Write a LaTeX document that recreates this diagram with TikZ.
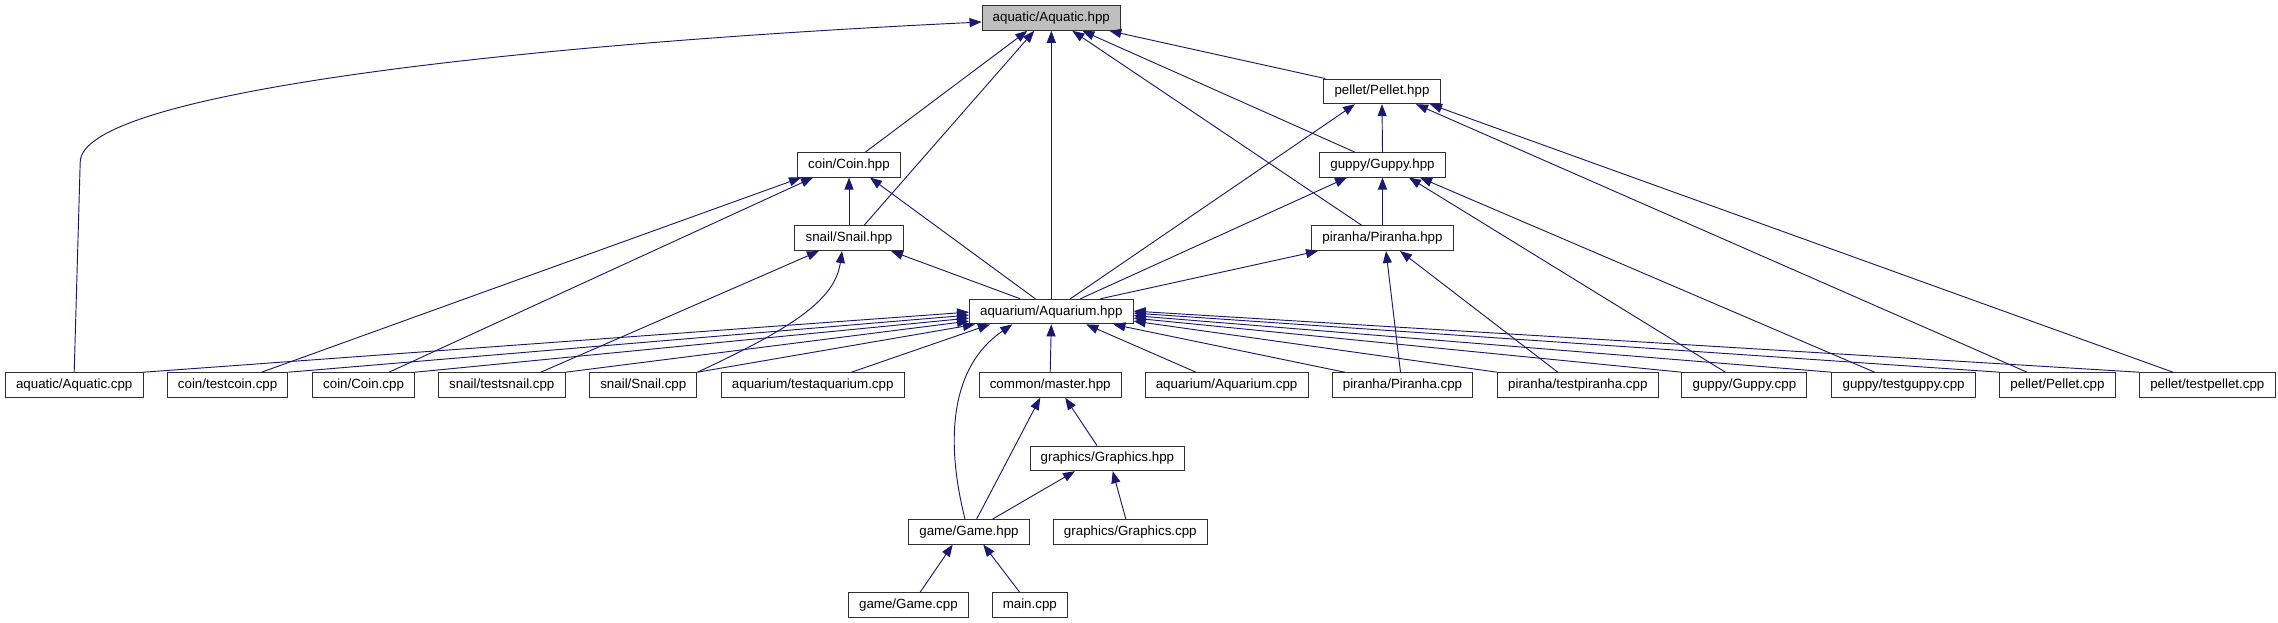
\documentclass[tikz,border=0pt]{standalone}
\usepackage{fontspec}
\setmainfont{Liberation Sans}
\usetikzlibrary{calc,arrows.meta}
\definecolor{edgeBlue}{HTML}{191970}
\definecolor{boxLine}{HTML}{303030}
\definecolor{rootFill}{HTML}{BFBFBF}

\tikzset{
  fileBox/.style={draw=boxLine, line width=0.75pt, fill=white, inner xsep=8pt,
    inner ysep=0pt, minimum height=18.45pt, font=\fontsize{10}{12}\selectfont},
  rootBox/.style={fileBox, fill=rootFill},
  incEdge/.style={draw=edgeBlue, line width=0.7pt,
    -{Triangle[length=9pt,width=6.8pt]}, fill=none}
}

\begin{document}
\begin{tikzpicture}[x=0.75pt,y=-0.75pt]

% rows (pixel units, y grows downward)
\def\yA{18}
\def\yB{91.4}
\def\yC{164.8}
\def\yD{238.2}
\def\yE{311.6}
\def\yF{385}
\def\yG{458.4}
\def\yH{531.8}
\def\yI{605.2}

\useasboundingbox (0,0) rectangle (2278,623);

% --- HEADERS ---
\node[rootBox] (aqhpp)      at (1051.3,\yA) {aquatic/Aquatic.hpp};
\node[fileBox] (pellethpp)  at (1382,\yB)   {pellet/Pellet.hpp};
\node[fileBox] (coinhpp)    at (849,\yC)    {coin/Coin.hpp};
\node[fileBox] (guppyhpp)   at (1382.5,\yC) {guppy/Guppy.hpp};
\node[fileBox] (snailhpp)   at (849,\yD)    {snail/Snail.hpp};
\node[fileBox] (piranhahpp) at (1382.5,\yD) {piranha/Piranha.hpp};
\node[fileBox] (aqrmhpp)    at (1051.3,\yE) {aquarium/Aquarium.hpp};

% --- SOURCES / SECOND LEVEL ---
\node[fileBox] (aquaticcpp)  at (74.2,\yF)   {aquatic/Aquatic.cpp};
\node[fileBox] (testcoin)    at (227.6,\yF)  {coin/testcoin.cpp};
\node[fileBox] (coincpp)     at (363.6,\yF)  {coin/Coin.cpp};
\node[fileBox] (testsnail)   at (501.8,\yF)  {snail/testsnail.cpp};
\node[fileBox] (snailcpp)    at (643.3,\yF)  {snail/Snail.cpp};
\node[fileBox] (testaqrm)    at (812.7,\yF)  {aquarium/testaquarium.cpp};
\node[fileBox] (master)      at (1050.2,\yF) {common/master.hpp};
\node[fileBox] (aqrmcpp)     at (1226.6,\yF) {aquarium/Aquarium.cpp};
\node[fileBox] (piranhacpp)  at (1402.5,\yF) {piranha/Piranha.cpp};
\node[fileBox] (testpiranha) at (1577.8,\yF) {piranha/testpiranha.cpp};
\node[fileBox] (guppycpp)    at (1744.4,\yF) {guppy/Guppy.cpp};
\node[fileBox] (testguppy)   at (1903.6,\yF) {guppy/testguppy.cpp};
\node[fileBox] (pelletcpp)   at (2057.5,\yF) {pellet/Pellet.cpp};
\node[fileBox] (testpellet)  at (2207.3,\yF) {pellet/testpellet.cpp};

% --- GAME / GRAPHICS ---
\node[fileBox] (graphicshpp) at (1107.4,\yG) {graphics/Graphics.hpp};
\node[fileBox] (gamehpp)     at (969,\yH)    {game/Game.hpp};
\node[fileBox] (graphicscpp) at (1130.3,\yH) {graphics/Graphics.cpp};
\node[fileBox] (gamecpp)     at (908.4,\yI)  {game/Game.cpp};
\node[fileBox] (maincpp)     at (1029.8,\yI) {main.cpp};

% --- EDGES INTO aquatic/Aquatic.hpp ---
\draw[incEdge] (aquaticcpp.north) -- ++(6,-210)
  .. controls +(0,-68) and +(-482,23) .. ($(aqhpp.west)+(0,4)$);
\draw[incEdge] ($(coinhpp.north)+(16.5,0)$) -- ($(aqhpp.south)+(-24,0)$);
\draw[incEdge] ($(snailhpp.north)+(15,0)$) -- ($(aqhpp.south)+(-17,0)$);
\draw[incEdge] (aqrmhpp.north) -- (aqhpp.south);
\draw[incEdge] ($(piranhahpp.north)+(-20.7,0)$) -- ($(aqhpp.south)+(21,0)$);
\draw[incEdge] ($(guppyhpp.north)+(-28,0)$) -- ($(aqhpp.south)+(31,0)$);
\draw[incEdge] ($(pellethpp.north west)+(2,0)$) -- ($(aqhpp.south)+(58,0)$);

% --- EDGES INTO pellet/Pellet.hpp ---
\draw[incEdge] (guppyhpp.north) -- (pellethpp.south);
\draw[incEdge] ($(aqrmhpp.north)+(19,0)$) -- ($(pellethpp.south)+(-27,0)$);
\draw[incEdge] ($(pelletcpp.north)+(-30.5,0)$) -- ($(pellethpp.south)+(34,0)$);
\draw[incEdge] ($(testpellet.north)+(-34.3,0)$) -- ($(pellethpp.south)+(48,0)$);

% --- EDGES INTO coin/Coin.hpp ---
\draw[incEdge] (snailhpp.north) -- (coinhpp.south);
\draw[incEdge] ($(testcoin.north)+(34,0)$) -- ($(coinhpp.south west)+(4,0)$);
\draw[incEdge] ($(coincpp.north)+(25.4,0)$) -- ($(coinhpp.south)+(-36,0)$);
\draw[incEdge] ($(aqrmhpp.north)+(-16,0)$) -- ($(coinhpp.south)+(21,0)$);

% --- EDGES INTO guppy/Guppy.hpp ---
\draw[incEdge] (piranhahpp.north) -- (guppyhpp.south);
\draw[incEdge] ($(aqrmhpp.north)+(29,0)$) -- ($(guppyhpp.south)+(-35.5,0)$);
\draw[incEdge] ($(guppycpp.north)+(-19,0)$) -- ($(guppyhpp.south)+(26.5,0)$);
\draw[incEdge] ($(testguppy.north)+(-29,0)$) -- ($(guppyhpp.south)+(37.5,0)$);

% --- EDGES INTO snail/Snail.hpp ---
\draw[incEdge] ($(aqrmhpp.north)+(-31,0)$) -- ($(snailhpp.south)+(42,0)$);
\draw[incEdge] ($(testsnail.north)+(39,0)$) -- ($(snailhpp.south)+(-30,0)$);
\draw[incEdge] (snailcpp.north east)
  .. controls +(92,-43) and +(-7,50) .. ($(snailhpp.south)+(-7,0)$);

% --- EDGES INTO piranha/Piranha.hpp ---
\draw[incEdge] ($(aqrmhpp.north)+(49,0)$) -- ($(piranhahpp.south)+(-64.5,0)$);
\draw[incEdge] ($(piranhacpp.north)+(-2,0)$) -- ($(piranhahpp.south)+(3.5,0)$);
\draw[incEdge] ($(testpiranha.north)+(-20,0)$) -- ($(piranhahpp.south)+(17.5,0)$);

% --- EDGES INTO aquarium/Aquarium.hpp ---
\draw[incEdge] (aquaticcpp.north east) -- ($(aqrmhpp.west)+(0,0.5)$);
\draw[incEdge] (testcoin.north east) -- ($(aqrmhpp.west)+(0,3.5)$);
\draw[incEdge] (coincpp.north east) -- ($(aqrmhpp.west)+(0,6.5)$);
\draw[incEdge] (testsnail.north east) -- ($(aqrmhpp.west)+(0,9.5)$);
\draw[incEdge] (snailcpp.north east) -- ($(aqrmhpp.south west)+(6,0)$);
\draw[incEdge] ($(testaqrm.north)+(38.7,0)$) -- ($(aqrmhpp.south west)+(21,0)$);
\draw[incEdge] (master.north) -- (aqrmhpp.south);
\draw[incEdge] ($(gamehpp.north)+(-4,0)$)
  .. controls +(-20,-79) and +(-62,42) .. ($(aqrmhpp.south)+(-39,0)$);
\draw[incEdge] ($(aqrmcpp.north)+(-30.6,0)$) -- ($(aqrmhpp.south)+(35,0)$);
\draw[incEdge] ($(piranhacpp.north west)+(13,0)$) -- ($(aqrmhpp.south)+(62,0)$);
\draw[incEdge] (testpiranha.north west) -- ($(aqrmhpp.east)+(0,9.5)$);
\draw[incEdge] (guppycpp.north west) -- ($(aqrmhpp.east)+(0,6.5)$);
\draw[incEdge] (testguppy.north west) -- ($(aqrmhpp.east)+(0,4)$);
\draw[incEdge] (pelletcpp.north west) -- ($(aqrmhpp.east)+(0,1.5)$);
\draw[incEdge] (testpellet.north west) -- ($(aqrmhpp.east)+(0,-0.5)$);

% --- EDGES INTO common/master.hpp, graphics, game ---
\draw[incEdge] ($(gamehpp.north)+(7.7,0)$) -- ($(master.south)+(-10,0)$);
\draw[incEdge] ($(graphicshpp.north)+(-10.4,0)$) -- ($(master.south)+(15,0)$);
\draw[incEdge] ($(gamehpp.north)+(23.7,0)$) -- ($(graphicshpp.south)+(-32.4,0)$);
\draw[incEdge] ($(graphicscpp.north)+(-4.5,0)$) -- ($(graphicshpp.south)+(5.3,0)$);
\draw[incEdge] ($(gamecpp.north)+(11.6,0)$) -- ($(gamehpp.south)+(-16.3,0)$);
\draw[incEdge] ($(maincpp.north)+(-10,0)$) -- ($(gamehpp.south)+(14.3,0)$);

\end{tikzpicture}
\end{document}
